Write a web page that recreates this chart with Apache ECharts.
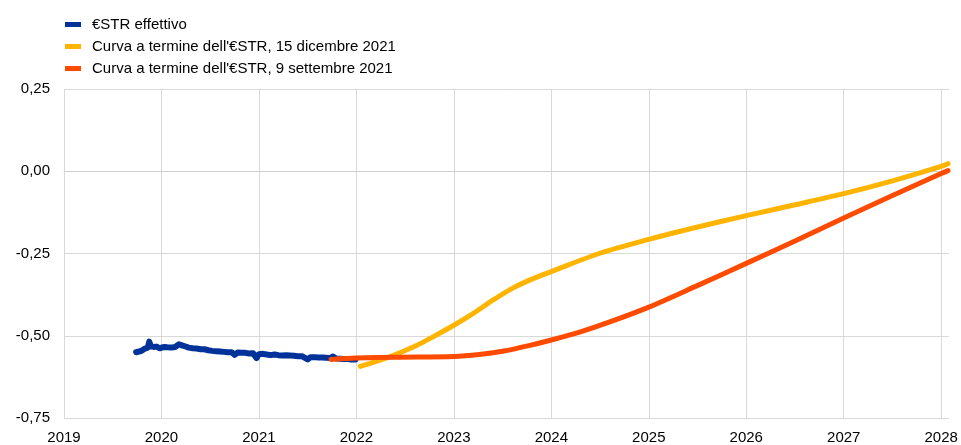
<!DOCTYPE html>
<html>
<head>
<meta charset="utf-8">
<script src="https://cdn.jsdelivr.net/npm/echarts@6/dist/echarts.min.js"></script>
<style>
  html, body { margin: 0; padding: 0; background: #fff; }
  #chart { width: 961px; height: 445px; }
</style>
</head>
<body>
<div id="chart"></div>
<script>
// series names
const names = [
  "€STR effettivo",
  "Curva a termine dell'€STR, 15 dicembre 2021",
  "Curva a termine dell'€STR, 9 settembre 2021",
];

// €STR effettivo (x in fractional years)
const estrYears = [
  2019.74, 2019.77, 2019.80, 2019.83, 2019.86, 2019.875, 2019.89, 2019.92, 2019.95, 2019.98,
  2020.00, 2020.03, 2020.06, 2020.10, 2020.14, 2020.18, 2020.21, 2020.24, 2020.28, 2020.32,
  2020.36, 2020.40, 2020.44, 2020.48, 2020.52, 2020.56, 2020.60, 2020.64, 2020.68, 2020.72,
  2020.75, 2020.78, 2020.82, 2020.86, 2020.90, 2020.94, 2020.975, 2021.00, 2021.04, 2021.08,
  2021.12, 2021.16, 2021.20, 2021.24, 2021.28, 2021.32, 2021.36, 2021.40, 2021.44, 2021.50,
  2021.53, 2021.57, 2021.61, 2021.65, 2021.69, 2021.73, 2021.76, 2021.79, 2021.83, 2021.87,
  2021.91, 2021.95, 2021.99,
];
const estrValues = [
  -0.550, -0.548, -0.545, -0.539, -0.536, -0.518, -0.532, -0.534, -0.533, -0.538,
  -0.535, -0.534, -0.535, -0.536, -0.534, -0.526, -0.529, -0.532, -0.536, -0.538,
  -0.539, -0.541, -0.541, -0.544, -0.546, -0.547, -0.548, -0.549, -0.550, -0.550,
  -0.558, -0.551, -0.552, -0.552, -0.554, -0.553, -0.568, -0.556, -0.555, -0.557,
  -0.559, -0.557, -0.559, -0.560, -0.559, -0.560, -0.561, -0.562, -0.562, -0.572,
  -0.565, -0.565, -0.566, -0.566, -0.567, -0.568, -0.563, -0.569, -0.570, -0.571,
  -0.571, -0.572, -0.572,
];

// forward curve 15 dicembre 2021
const decYears = [
  2022.04, 2022.34, 2022.60, 2022.80, 2023.00, 2023.20, 2023.40, 2023.60, 2023.80, 2024.00,
  2024.49, 2025.00, 2025.48, 2026.00, 2026.50, 2027.00, 2027.50, 2028.00, 2028.07,
];
const decValues = [
  -0.593, -0.564, -0.532, -0.501, -0.468, -0.432, -0.392, -0.356, -0.328, -0.305,
  -0.250, -0.207, -0.171, -0.135, -0.102, -0.068, -0.029, 0.015, 0.023,
];

// forward curve 9 settembre 2021
const sepYears = [
  2021.74, 2022.00, 2022.40, 2023.00, 2023.26, 2023.50, 2023.77, 2024.00, 2024.29, 2024.60,
  2025.00, 2025.48, 2026.00, 2026.50, 2027.00, 2027.50, 2028.00, 2028.07,
];
const sepValues = [
  -0.572, -0.568, -0.565, -0.563, -0.557, -0.547, -0.530, -0.513, -0.489, -0.458,
  -0.413, -0.350, -0.280, -0.212, -0.142, -0.074, -0.007, 0.002,
];

const colors = ["#003299", "#FFB400", "#FF4B00"];
const font = "'Liberation Sans', Arial, sans-serif";

function pairs(xs, ys) {
  return xs.map((x, i) => [x, ys[i]]);
}

const chart = echarts.init(document.getElementById("chart"), null, { renderer: "canvas" });

chart.setOption({
  animation: false,
  textStyle: { fontFamily: font },
  color: colors,
  legend: {
    orient: "vertical",
    left: 60,
    top: 12,
    itemWidth: 16,
    itemHeight: 5,
    itemGap: 7,
    icon: "rect",
    textStyle: { fontSize: 15, color: "#000", fontFamily: font, padding: [0, 0, 0, 6] },
    data: names,
  },
  grid: { left: 64, right: 12, top: 89, bottom: 27 },
  xAxis: {
    type: "value",
    min: 2019,
    max: 2028.08,
    interval: 1,
    axisLine: { show: true, lineStyle: { color: "#cfcfcf", width: 1 } },
    axisTick: { show: false },
    axisLabel: {
      color: "#000",
      fontSize: 15,
      margin: 12,
      showMaxLabel: false,
      formatter: (v) => (Number.isInteger(v) ? String(v) : ""),
    },
    splitLine: { show: true, showMaxLine: false, lineStyle: { color: "#d9d9d9", width: 1 } },
  },
  yAxis: {
    type: "value",
    min: -0.75,
    max: 0.25,
    interval: 0.25,
    axisLine: { show: false },
    axisTick: { show: false },
    axisLabel: {
      color: "#000",
      fontSize: 15,
      margin: 14,
      formatter: (v) => v.toFixed(2).replace(".", ","),
    },
    splitLine: { lineStyle: { color: "#d9d9d9", width: 1 } },
  },
  series: [
    {
      name: names[0],
      type: "line",
      data: pairs(estrYears, estrValues),
      showSymbol: false,
      lineStyle: { width: 6, color: colors[0], cap: "round", join: "round" },
    },
    {
      name: names[1],
      type: "line",
      data: pairs(decYears, decValues),
      showSymbol: false,
      smooth: 0.3,
      lineStyle: { width: 5, color: colors[1], cap: "round" },
    },
    {
      name: names[2],
      type: "line",
      data: pairs(sepYears, sepValues),
      showSymbol: false,
      smooth: 0.3,
      lineStyle: { width: 5, color: colors[2], cap: "round" },
    },
  ],
});

window.addEventListener("resize", () => chart.resize());
</script>
</body>
</html>
